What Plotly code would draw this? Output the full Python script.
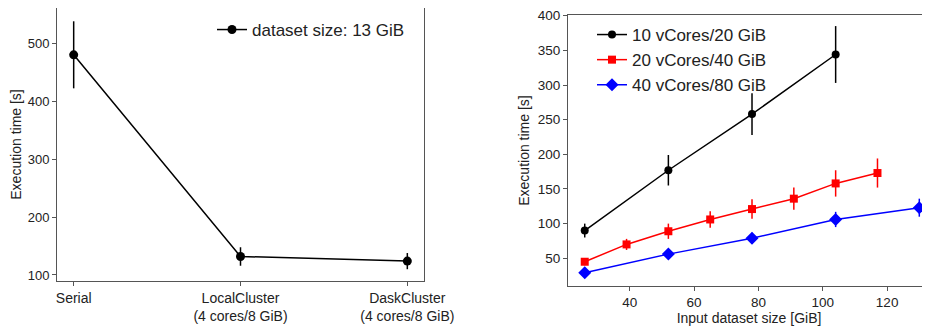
import plotly.graph_objects as go

# Left panel data
left_categories = ["Serial", "LocalCluster<br>(4 cores/8 GiB)", "DaskCluster<br>(4 cores/8 GiB)"]
left_positions = [0, 1, 2]
left_times = [481, 132, 124]
left_errors = [58, 16, 14]

# Right panel data
x_black = [26, 52, 78, 104]
y_black = [90, 177, 258, 344]
e_black = [10, 22, 30, 41]

x_red = [26, 39, 52, 65, 78, 91, 104, 117]
y_red = [45, 70, 89, 106, 121, 136, 158, 173]
e_red = [5, 8, 11, 12, 14, 16, 19, 21]

x_blue = [26, 52, 78, 104, 130]
y_blue = [29, 56, 79, 106, 123]
e_blue = [4, 6, 8, 11, 13]

OFF = 8  # page body margin
W, H = 930 - OFF, 326 - OFF
FONT = "Liberation Sans, Arial, Helvetica, sans-serif"
AX = "#555555"
TXT = "#222222"

fig = go.Figure()

def add(x, y, e, color, symbol, size, name, xa, ya, legend):
    fig.add_trace(go.Scatter(
        x=x, y=y, mode="lines+markers", name=name,
        line=dict(color=color, width=1.5),
        marker=dict(color=color, symbol=symbol, size=size),
        error_y=dict(type="data", array=e, visible=True, color=color, thickness=1.5, width=0),
        xaxis=xa, yaxis=ya, legend=legend, showlegend=True,
    ))

add(left_positions, left_times, left_errors, "black", "circle", 9, "dataset size: 13 GiB", "x", "y", "legend")
add(x_black, y_black, e_black, "black", "circle", 8, "10 vCores/20 GiB", "x2", "y2", "legend2")
add(x_red, y_red, e_red, "red", "square", 8, "20 vCores/40 GiB", "x2", "y2", "legend2")
add(x_blue, y_blue, e_blue, "blue", "diamond", 10, "40 vCores/80 GiB", "x2", "y2", "legend2")

def px(v):
    return (v - OFF) / W

def py(v):
    return 1 - (v - OFF) / H

axis_common = dict(showline=True, linecolor=AX, linewidth=1, ticks="outside", ticklen=4,
                   tickcolor=AX, showgrid=False, zeroline=False, automargin=False)

RIGHT_EDGE = 930
fig.update_layout(
    width=W, height=H, margin=dict(l=0, r=0, t=0, b=0),
    plot_bgcolor="white", paper_bgcolor="white", showlegend=True,
    font=dict(family=FONT, color=TXT),
    xaxis=dict(axis_common, domain=[px(57), px(424)], range=[-0.1, 2.1], mirror=True,
               tickvals=left_positions, ticktext=left_categories, anchor="y",
               tickfont=dict(family=FONT, size=14, color=TXT)),
    yaxis=dict(axis_common, domain=[py(281), py(8)], range=[89.6, 562], mirror=True,
               tickvals=[100, 200, 300, 400, 500], anchor="x",
               tickfont=dict(family=FONT, size=13, color=TXT),
               title=dict(text="Execution time [s]", font=dict(family=FONT, size=14, color=TXT), standoff=5)),
    xaxis2=dict(axis_common, domain=[px(568), 1], range=[20.8, 20.8 + (RIGHT_EDGE - 568) / 3.217], mirror=True,
                tickvals=[40, 60, 80, 100, 120], anchor="y2",
                tickfont=dict(family=FONT, size=13.5, color=TXT),
                title=dict(text="Input dataset size [GiB]", font=dict(family=FONT, size=14, color=TXT), standoff=3)),
    yaxis2=dict(axis_common, domain=[py(286), py(15)], range=[10, 401], mirror=False,
                tickvals=[50, 100, 150, 200, 250, 300, 350, 400], anchor="x2",
                tickfont=dict(family=FONT, size=13.5, color=TXT),
                title=dict(text="Execution time [s]", font=dict(family=FONT, size=14, color=TXT), standoff=4)),
    legend=dict(x=px(212), y=py(12), xanchor="left", yanchor="top", bgcolor="rgba(0,0,0,0)",
                font=dict(family=FONT, size=17, color=TXT)),
    legend2=dict(x=px(592), y=py(17), xanchor="left", yanchor="top", bgcolor="rgba(0,0,0,0)",
                 font=dict(family=FONT, size=17, color=TXT), tracegroupgap=0),
)

fig.write_html("out.html")
